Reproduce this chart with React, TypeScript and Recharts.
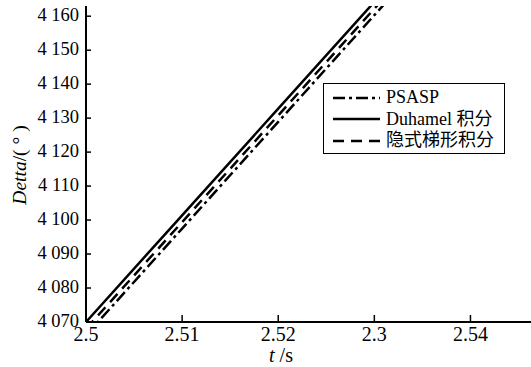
import React from 'react';
import { LineChart, Line, XAxis, YAxis } from 'recharts';

const times = [2.5, 2.51, 2.52, 2.53, 2.54];
const psasp = [4066.1, 4097.5, 4128.9, 4160.3, 4191.7];
const duhamel = [4070.0, 4101.4, 4132.8, 4164.2, 4195.6];
const trapezoid = [4068.0, 4099.4, 4130.8, 4162.2, 4193.6];

const xTicks = [2.5, 2.51, 2.52, 2.53, 2.54];
const xTickLabels = ['2.5', '2.51', '2.52', '2.3', '2.54'];
const yTicks = [4070, 4080, 4090, 4100, 4110, 4120, 4130, 4140, 4150, 4160];
const yTickLabels = ['4 070', '4 080', '4 090', '4 100', '4 110', '4 120', '4 130', '4 140', '4 150', '4 160'];

const data = times.map((t, i) => ({ t, psasp: psasp[i], duhamel: duhamel[i], trapezoid: trapezoid[i] }));

const FONT = 'Liberation Serif, DejaVu Serif, serif';
const CJK = 'Liberation Serif, Noto Sans CJK SC, serif';

const XTick = (props: any) => {
  const { x, y, payload } = props;
  const idx = xTicks.indexOf(payload.value);
  return (
    <g>
      <line x1={x} y1={y} x2={x} y2={y - 7} stroke="#000" strokeWidth={1.5} />
      <text x={x} y={y + 19} textAnchor="middle" fontFamily={FONT} style={{ fontFamily: FONT, fontSize: 20 }} fill="#000">
        {idx >= 0 ? xTickLabels[idx] : payload.value}
      </text>
    </g>
  );
};

const YTick = (props: any) => {
  const { x, y, payload } = props;
  const idx = yTicks.indexOf(payload.value);
  return (
    <g>
      <line x1={x} y1={y} x2={x + 5} y2={y} stroke="#000" strokeWidth={1.5} />
      <text x={x - 7} y={y + 4.5} textAnchor="end" fontFamily={FONT} style={{ fontFamily: FONT, fontSize: 18.5 }} fill="#000">
        {idx >= 0 ? yTickLabels[idx] : payload.value}
      </text>
    </g>
  );
};

const legendItems = [
  { name: 'PSASP', dash: '12 4 3 4' },
  { name: 'Duhamel 积分', dash: undefined },
  { name: '隐式梯形积分', dash: '11 7' },
];

const LegendBox = () => (
  <div
    style={{
      position: 'absolute',
      left: 323,
      top: 83,
      width: 182,
      height: 71,
      border: '1.5px solid #000',
      background: '#fff',
      boxSizing: 'border-box',
      paddingTop: 3,
    }}
  >
    {legendItems.map((it) => (
      <div key={it.name} style={{ display: 'flex', alignItems: 'center', height: 21.5 }}>
        <svg width={62} height={12} style={{ flex: 'none' }}>
          <line x1={9} y1={6} x2={56} y2={6} stroke="#000" strokeWidth={2.5} strokeDasharray={it.dash} />
        </svg>
        <span style={{ fontFamily: CJK, fontSize: 18, color: '#000', lineHeight: '21px' }}>{it.name}</span>
      </div>
    ))}
  </div>
);

export default function App() {
  return (
    <div style={{ position: 'absolute', left: 0, top: 0, width: 531, height: 367, background: '#fff' }}>
      <LineChart width={531} height={367} data={data} margin={{ top: 6, right: 0, left: 0, bottom: 0 }}>
        <XAxis
          dataKey="t"
          type="number"
          domain={[2.5, 2.5463]}
          ticks={xTicks}
          allowDataOverflow
          height={45}
          tickSize={0}
          tickMargin={0}
          tickLine={false}
          tick={<XTick />}
          axisLine={{ stroke: '#000', strokeWidth: 2 }}
          label={(p: any) => {
            const vb = p.viewBox;
            return (
              <text x={281} y={vb.y + 40} textAnchor="middle" fontFamily={FONT} style={{ fontFamily: FONT, fontSize: 20 }} fill="#000">
                <tspan fontStyle="italic">t</tspan>
                <tspan> /s</tspan>
              </text>
            );
          }}
        />
        <YAxis
          type="number"
          domain={[4070, 4163]}
          ticks={yTicks}
          allowDataOverflow
          width={86}
          tickSize={0}
          tickMargin={0}
          tickLine={false}
          tick={<YTick />}
          axisLine={{ stroke: '#000', strokeWidth: 2 }}
          label={() => (
            <text x={0} y={0} transform="translate(26,165) rotate(-90)" textAnchor="middle" fontFamily={FONT} style={{ fontFamily: FONT, fontSize: 19.5 }} fill="#000">
              <tspan fontStyle="italic">Detta</tspan>
              <tspan>/( ° )</tspan>
            </text>
          )}
        />
        <Line type="linear" dataKey="psasp" stroke="#000" strokeWidth={2.5} strokeDasharray="12 4 3 4" dot={false} isAnimationActive={false} />
        <Line type="linear" dataKey="duhamel" stroke="#000" strokeWidth={2.5} dot={false} isAnimationActive={false} />
        <Line type="linear" dataKey="trapezoid" stroke="#000" strokeWidth={2.5} strokeDasharray="11 7" dot={false} isAnimationActive={false} />
      </LineChart>
      <LegendBox />
    </div>
  );
}
